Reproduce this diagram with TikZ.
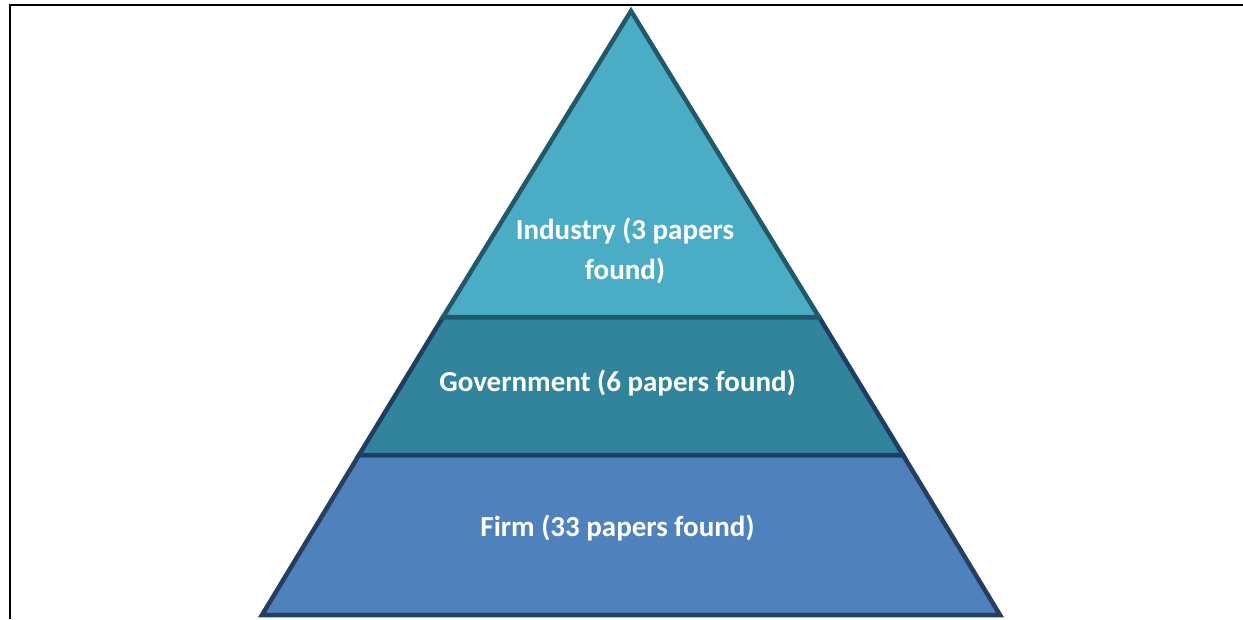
\documentclass[tikz,border=0pt]{standalone}
\usepackage{fontspec}
\setmainfont{Carlito}
\definecolor{topfill}{HTML}{4BACC6}
\definecolor{topline}{HTML}{215968}
\definecolor{midfill}{HTML}{31849B}
\definecolor{midline}{HTML}{1F3F62}
\definecolor{botfill}{HTML}{4F81BD}
\definecolor{botline}{HTML}{243F60}
\tikzset{
  tier/.style={line width=4.5pt, line join=miter},
  lbl/.style={text=white, font=\fontsize{29}{40}\selectfont\bfseries, align=center, inner sep=0pt},
  frame/.style={line width=2pt, black}
}
\begin{document}
\begin{tikzpicture}[x=1pt,y=-1pt]
\useasboundingbox (0,0) rectangle (1243,619);
\coordinate (fa) at (10,619);
\coordinate (fb) at (10,5);
\coordinate (fc) at (1243,5);
\draw[frame] (fa) -- (fb) -- (fc);
% tiers
\coordinate (apex) at (631,11);
\coordinate (l1) at (443,317);
\coordinate (r1) at (819,317);
\coordinate (l2) at (359,455);
\coordinate (r2) at (903,455);
\coordinate (l3) at (262,615);
\coordinate (r3) at (1000,615);
\draw[tier, fill=botfill, draw=botline] (l2) -- (r2) -- (r3) -- (l3) -- cycle;
\draw[tier, fill=midfill, draw=midline] (l1) -- (r1) -- (r2) -- (l2) -- cycle;
\draw[tier, fill=topfill, draw=topline] (apex) -- (r1) -- (l1) -- cycle;
\node[lbl] (industry) at (625,251) {Industry (3 papers\\found)};
\node[lbl] (government) at (617.5,383) {Government (6 papers found)};
\node[lbl] (firm) at (617.5,528) {Firm (33 papers found)};
\end{tikzpicture}
\end{document}
